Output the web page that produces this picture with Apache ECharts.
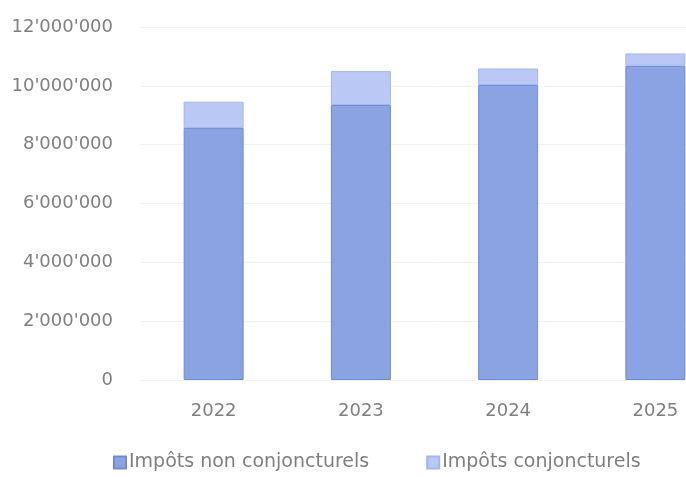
<!DOCTYPE html>
<html><head><meta charset="utf-8">
<script src="https://cdn.jsdelivr.net/npm/echarts@6/dist/echarts.min.js"></script>
<style>html,body{margin:0;padding:0;background:#fff;overflow:hidden}#c{width:729px;height:477px}</style>
</head><body><div id="c"></div>
<script>
const categories = ['2022', '2023', '2024', '2025'];
const nonConjoncturels = [8570000, 9350000, 10030000, 10680000];
const conjoncturels = [890000, 1150000, 560000, 420000];
const seriesNames = ['Impôts non conjoncturels', 'Impôts conjoncturels'];
const yTicks = { min: 0, max: 12000000, interval: 2000000 };

function fmt(v) { return String(v).replace(/\B(?=(\d{3})+(?!\d))/g, "'"); }
const font = 'DejaVu Sans';
const chart = echarts.init(document.getElementById('c'));
chart.setOption({
  animation: false,
  grid: { left: 140, top: 27, right: 0, bottom: 97 },
  legend: {
    bottom: 0, left: 108, itemWidth: 12, itemHeight: 12, itemGap: 57, icon: 'rect',
    textStyle: { fontFamily: font, fontSize: 19, color: '#808080', padding: [0,0,0,-2] },
    data: seriesNames
  },
  xAxis: {
    type: 'category', data: categories,
    axisLine: { show: false }, axisTick: { show: false },
    axisLabel: { margin: 22, fontFamily: font, fontSize: 18, color: '#808080' }
  },
  yAxis: {
    type: 'value', min: yTicks.min, max: yTicks.max, interval: yTicks.interval,
    axisLine: { show: false }, axisTick: { show: false },
    splitLine: { lineStyle: { color: '#f3f3f3' } },
    axisLabel: { margin: 27, fontFamily: font, fontSize: 18, color: '#808080', formatter: fmt }
  },
  series: [
    { name: seriesNames[0], type: 'bar', stack: 't', barWidth: 60, data: nonConjoncturels,
      itemStyle: { color: '#8ba3e3', borderColor: '#6e8cd6', borderWidth: 1 } },
    { name: seriesNames[1], type: 'bar', stack: 't', barWidth: 60, data: conjoncturels,
      itemStyle: { color: '#b9c8f4', borderColor: '#a3b6ee', borderWidth: 1 } }
  ]
});
</script></body></html>
